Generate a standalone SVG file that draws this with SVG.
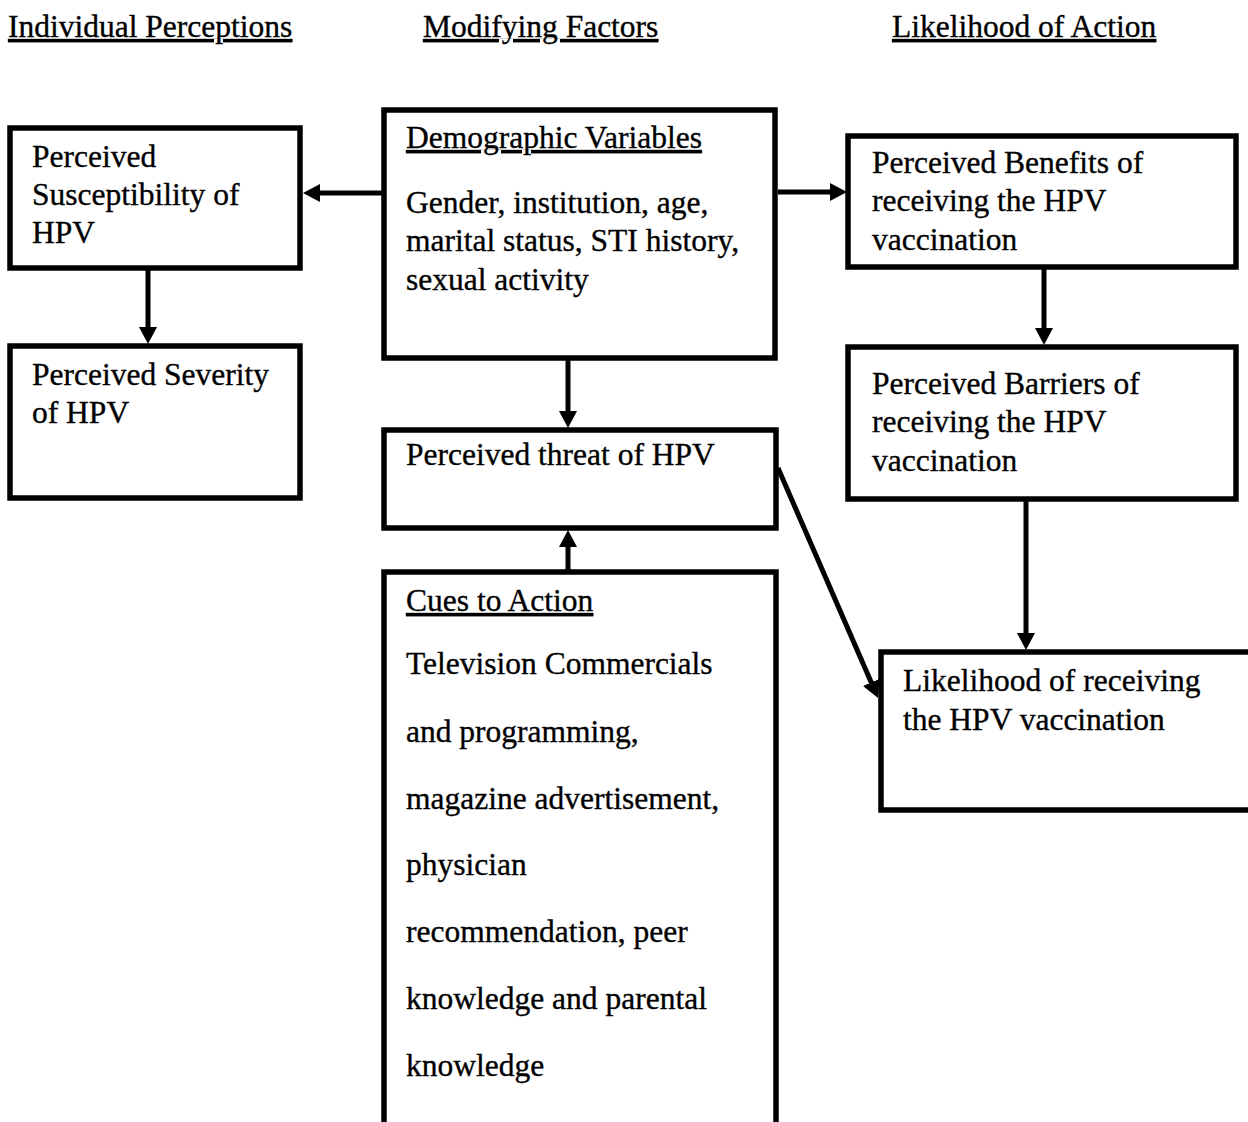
<svg xmlns="http://www.w3.org/2000/svg" width="1248" height="1122" viewBox="0 0 1248 1122">
<defs>
<style>
text{font-family:"Liberation Serif","Times New Roman",serif;font-size:31.5px;fill:#000;stroke:#000;stroke-width:0.35}
.u{text-decoration:underline}
.box{fill:#fff;stroke:#000;stroke-width:5.5}
.con{stroke:#000;stroke-width:5;fill:none}
</style>
<marker id="ah" viewBox="0 0 17 18" markerWidth="17" markerHeight="18" refX="7" refY="9" markerUnits="userSpaceOnUse" orient="auto">
<path d="M0,0 L17,9 L0,18 Z" fill="#000"/>
</marker>
</defs>
<rect width="1248" height="1122" fill="#fff"/>
<g id="headers">
<text x="8" y="37" class="u">Individual Perceptions</text>
<text x="423" y="37" class="u">Modifying Factors</text>
<text x="892" y="37" class="u">Likelihood of Action</text>
</g>
<g id="connectors">
<line class="con" x1="382" y1="193" x2="313" y2="193" marker-end="url(#ah)"/>
<line class="con" x1="778" y1="192" x2="837" y2="192" marker-end="url(#ah)"/>
<line class="con" x1="148" y1="270" x2="148" y2="334" marker-end="url(#ah)"/>
<line class="con" x1="568" y1="360" x2="568" y2="418" marker-end="url(#ah)"/>
<line class="con" x1="568" y1="570" x2="568" y2="540" marker-end="url(#ah)"/>
<line class="con" x1="1044" y1="269" x2="1044" y2="335" marker-end="url(#ah)"/>
<line class="con" x1="1026" y1="501" x2="1026" y2="640" marker-end="url(#ah)"/>
<line class="con" x1="778" y1="468" x2="874" y2="688.8" marker-end="url(#ah)"/>
</g>
<g id="susceptibility">
<rect class="box" x="10" y="128" width="290" height="140"/>
<text x="32" y="167">Perceived</text>
<text x="32" y="205">Susceptibility of</text>
<text x="32" y="243">HPV</text>
</g>
<g id="severity">
<rect class="box" x="10" y="346" width="290" height="152"/>
<text x="32" y="385">Perceived Severity</text>
<text x="32" y="423">of HPV</text>
</g>
<g id="demographic">
<rect class="box" x="384" y="110" width="391" height="248"/>
<text x="406" y="148" class="u">Demographic Variables</text>
<text x="406" y="213">Gender, institution, age,</text>
<text x="406" y="251">marital status, STI history,</text>
<text x="406" y="290">sexual activity</text>
</g>
<g id="threat">
<rect class="box" x="384" y="430" width="392" height="98"/>
<text x="406" y="465">Perceived threat of HPV</text>
</g>
<g id="cues">
<path class="box" d="M384,1130 L384,572 L776,572 L776,1130"/>
<text x="406" y="611" class="u">Cues to Action</text>
<text x="406" y="674">Television Commercials</text>
<text x="406" y="742">and programming,</text>
<text x="406" y="809">magazine advertisement,</text>
<text x="406" y="875">physician</text>
<text x="406" y="942">recommendation, peer</text>
<text x="406" y="1009">knowledge and parental</text>
<text x="406" y="1076">knowledge</text>
</g>
<g id="benefits">
<rect class="box" x="848" y="136" width="388" height="131"/>
<text x="872" y="173">Perceived Benefits of</text>
<text x="872" y="211">receiving the HPV</text>
<text x="872" y="250">vaccination</text>
</g>
<g id="barriers">
<rect class="box" x="848" y="347" width="388" height="152"/>
<text x="872" y="394">Perceived Barriers of</text>
<text x="872" y="432">receiving the HPV</text>
<text x="872" y="471">vaccination</text>
</g>
<g id="likelihood">
<rect class="box" x="881" y="652" width="400" height="158"/>
<text x="903" y="691">Likelihood of receiving</text>
<text x="903" y="730">the HPV vaccination</text>
</g>
</svg>
